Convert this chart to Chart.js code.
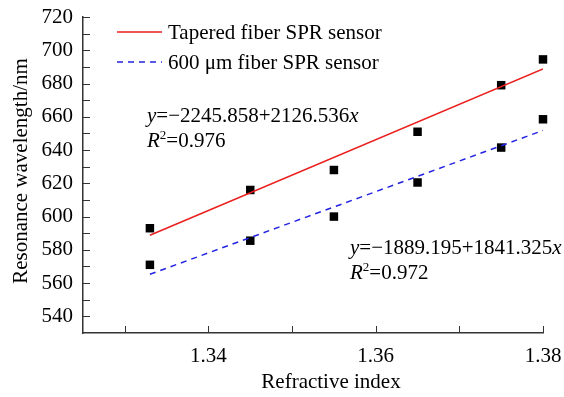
<!DOCTYPE html>
<html lang="en">
<head>
    <meta charset="UTF-8">
    <script src="https://cdn.jsdelivr.net/npm/chart.js"></script>
    <title>Resonance wavelength vs refractive index</title>
    <style>
        body { margin: 0; background: #fff; }
        #wrap { width: 564px; height: 397px; }
    </style>
</head>
<body>

<div id="wrap">
    <canvas id="lineChart" width="564" height="397"></canvas>
</div>

<script>
    // measured points
    var riValues = [1.333, 1.345, 1.355, 1.365, 1.375, 1.38];
    var taperedValues = [593, 616, 628, 651, 679, 694.5];
    var fiber600Values = [571, 585.5, 600, 620.5, 641.5, 658.5];

    // fitted lines (end points)
    var fitRange = [1.333, 1.38];
    var taperedFit = [588.8, 688.8];
    var fiber600Fit = [565.3, 651.8];

    var seriesNames = ['Tapered fiber SPR sensor', '600 \u03bcm fiber SPR sensor'];
    var fitTexts = [
        ['=\u22122245.858+2126.536', '=0.976'],
        ['=\u22121889.195+1841.325', '=0.972']
    ];

    var FONT = '"Liberation Serif", "Times New Roman", serif';
    var FS = 21;
    var RED = 'rgb(235, 30, 30)';
    var BLUE = 'rgb(35, 35, 225)';

    function toXY(xs, ys) {
        return xs.map(function (x, i) { return {x: x, y: ys[i]}; });
    }

    // inward tick marks, legend, equations and axis titles
    var extrasPlugin = {
        id: 'extras',
        afterDraw: function (chart) {
            var ctx = chart.ctx;
            var area = chart.chartArea;
            var xs = chart.scales.x, ys = chart.scales.y;
            ctx.save();

            // ticks pointing into the plot
            ctx.strokeStyle = '#333';
            ctx.lineWidth = 1;
            ctx.beginPath();
            xs.ticks.forEach(function (t) {
                var px = Math.round(xs.getPixelForValue(t.value)) + 0.5;
                ctx.moveTo(px, area.bottom);
                ctx.lineTo(px, area.bottom - 7);
            });
            ys.ticks.forEach(function (t) {
                if (t.value <= ys.min) return;
                var py = Math.round(ys.getPixelForValue(t.value)) + 0.5;
                ctx.moveTo(area.left, py);
                ctx.lineTo(area.left + 7, py);
            });
            ctx.stroke();

            // legend
            ctx.textBaseline = 'middle';
            ctx.textAlign = 'left';
            ctx.font = FS + 'px ' + FONT;
            [0, 1].forEach(function (i) {
                var ds = chart.data.datasets[i];
                var ly = 32 + i * 30;
                ctx.strokeStyle = ds.borderColor;
                ctx.lineWidth = ds.borderWidth;
                ctx.setLineDash(ds.borderDash || []);
                ctx.beginPath();
                ctx.moveTo(117, ly);
                ctx.lineTo(162, ly);
                ctx.stroke();
                ctx.setLineDash([]);
                ctx.fillStyle = '#000';
                ctx.fillText(seriesNames[i], 168, ly + 1);
            });

            // fit equations
            function equation(x, y, lines) {
                ctx.textBaseline = 'alphabetic';
                ctx.fillStyle = '#000';
                var cx = x;
                ctx.font = 'italic ' + FS + 'px ' + FONT;
                ctx.fillText('y', cx, y);
                cx += ctx.measureText('y').width;
                ctx.font = FS + 'px ' + FONT;
                ctx.fillText(lines[0], cx, y);
                cx += ctx.measureText(lines[0]).width;
                ctx.font = 'italic ' + FS + 'px ' + FONT;
                ctx.fillText('x', cx, y);

                cx = x;
                var y2 = y + 25;
                ctx.fillText('R', cx, y2);
                cx += ctx.measureText('R').width;
                ctx.font = '13px ' + FONT;
                ctx.fillText('2', cx, y2 - 8);
                cx += ctx.measureText('2').width;
                ctx.font = FS + 'px ' + FONT;
                ctx.fillText(lines[1], cx, y2);
            }
            equation(147, 122, fitTexts[0]);
            equation(350, 254, fitTexts[1]);

            // axis titles
            ctx.font = FS + 'px ' + FONT;
            ctx.fillStyle = '#000';
            ctx.textAlign = 'center';
            ctx.textBaseline = 'middle';
            ctx.fillText('Refractive index', 331, 382);
            ctx.translate(21, 171);
            ctx.rotate(-Math.PI / 2);
            ctx.fillText('Resonance wavelength/nm', 0, 0);

            ctx.restore();
        }
    };

    function drawLineChart() {
        var ctx = document.getElementById('lineChart').getContext('2d');

        var myChart = new Chart(ctx, {
            type: 'scatter',
            data: {
                datasets: [{
                    label: seriesNames[0],
                    data: toXY(fitRange, taperedFit),
                    showLine: true,
                    borderColor: RED,
                    borderWidth: 1.5,
                    pointRadius: 0
                }, {
                    label: seriesNames[1],
                    data: toXY(fitRange, fiber600Fit),
                    showLine: true,
                    borderColor: BLUE,
                    borderWidth: 1.5,
                    borderDash: [6, 5],
                    pointRadius: 0
                }, {
                    label: 'Tapered points',
                    data: toXY(riValues, taperedValues),
                    pointStyle: 'rect',
                    pointRadius: 6,
                    backgroundColor: '#000',
                    borderColor: '#000',
                    borderWidth: 0,
                    clip: false
                }, {
                    label: '600 um points',
                    data: toXY(riValues, fiber600Values),
                    pointStyle: 'rect',
                    pointRadius: 6,
                    backgroundColor: '#000',
                    borderColor: '#000',
                    borderWidth: 0,
                    clip: false
                }]
            },
            options: {
                responsive: false,
                animation: false,
                layout: {
                    padding: {top: 17, right: 21, bottom: 0, left: 0}
                },
                plugins: {
                    legend: {display: false},
                    tooltip: {enabled: false}
                },
                scales: {
                    x: {
                        type: 'linear',
                        min: 1.325,
                        max: 1.38,
                        grid: {display: false, drawTicks: false},
                        border: {display: true, color: '#333', width: 1.5},
                        ticks: {
                            stepSize: 0.01,
                            includeBounds: false,
                            padding: 11,
                            color: '#000',
                            font: {family: FONT, size: FS},
                            maxRotation: 0,
                            autoSkip: false,
                            callback: function (v) {
                                var k = v / 0.02;
                                return Math.abs(k - Math.round(k)) < 1e-6 ? v.toFixed(2) : '';
                            }
                        },
                        afterFit: function (scale) {
                            scale.height = 64;
                            scale.paddingLeft = 0;
                            scale.paddingRight = 0;
                        }
                    },
                    y: {
                        min: 530,
                        max: 720,
                        grid: {display: false, drawTicks: false},
                        border: {display: true, color: '#333', width: 1.5},
                        ticks: {
                            stepSize: 10,
                            padding: 10,
                            color: '#000',
                            font: {family: FONT, size: FS},
                            autoSkip: false,
                            callback: function (v) {
                                return (v % 20 === 0 && v > 530) ? v : '';
                            }
                        },
                        afterFit: function (scale) {
                            scale.width = 83;
                            scale.paddingTop = 0;
                            scale.paddingBottom = 0;
                        }
                    }
                }
            },
            plugins: [extrasPlugin]
        });
    }

    drawLineChart();
</script>

</body>
</html>
